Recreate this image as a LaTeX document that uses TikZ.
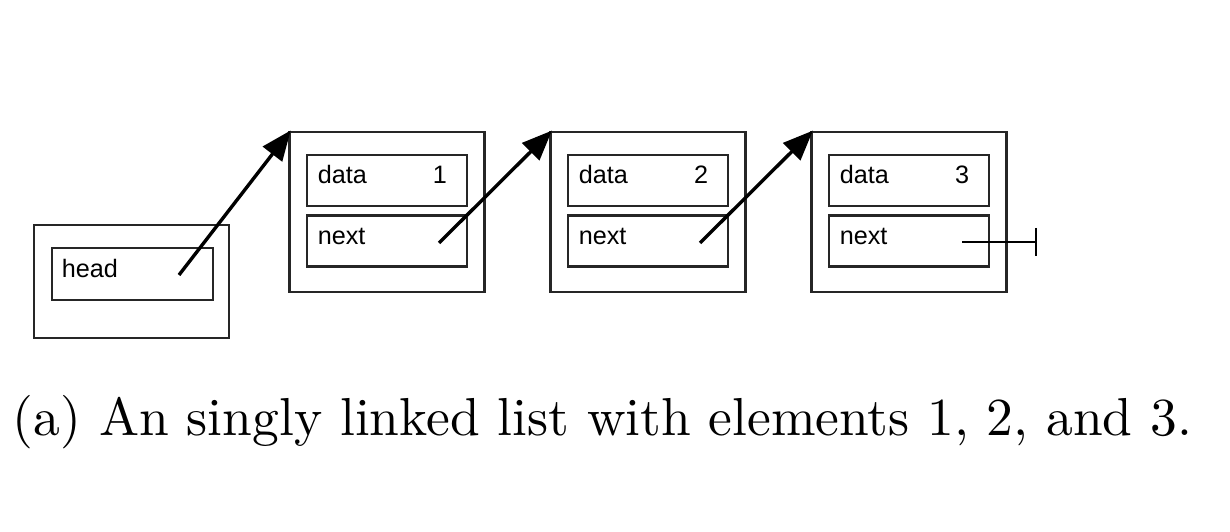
\documentclass[tikz,border=0pt]{standalone}
\usepackage{fontspec}
\usepackage{graphicx}
\newfontfamily\lblfont{Liberation Sans}
\usetikzlibrary{arrows.meta}
\tikzset{
  outerbox/.style={draw=black!85, line width=0.6pt, minimum width=#1, inner sep=0pt, outer sep=0pt},
  cell/.style={draw=black!85, line width=0.6pt, minimum width=40pt, minimum height=12.75pt, inner sep=0pt, outer sep=0pt},
  lbl/.style={font=\lblfont\fontsize{6.3}{7}\selectfont, inner sep=0pt, anchor=base west},
  num/.style={font=\lblfont\fontsize{6.3}{7}\selectfont, inner sep=0pt, anchor=base},
  ptr/.style={line width=0.85pt, -{Triangle[length=7.5pt, width=6pt]}, shorten >=-0.5pt},
  nullptr/.style={line width=0.6pt, -{Bar[width=7pt]}}
}
\begin{document}
\begin{tikzpicture}[x=0.25pt, y=-0.25pt]
\useasboundingbox (0,0) rectangle (1230,532);
% head
\node[outerbox=48.75pt, minimum height=28.25pt] (headbox) at (131.5,281.5) {};
\node[cell, minimum width=40.25pt, minimum height=13pt] (head) at (132.5,274) {};
\node[lbl] (headt) at (61,278) {head};
\coordinate (hs) at (179,275);
% list nodes
\foreach \i/\x/\v in {1/387/1, 2/648/2, 3/909/3}{
  \node[outerbox=48.75pt, minimum height=40pt] (n\i) at (\x,212) {};
  \node[cell] (d\i) at (\x,180.5) {};
  \node[cell] (nx\i) at (\x,241) {};
  \node[lbl] (dl\i) at (\x-70,184) {data};
  \node[num] (dv\i) at (\x+53,184) {\v};
  \node[lbl] (nl\i) at (\x-70,245) {next};
  \coordinate (ns\i) at (\x+52,243);
}
% pointers
\draw[ptr] (hs) -- (n1.north west);
\draw[ptr] (ns1) -- (n2.north west);
\draw[ptr] (ns2) -- (n3.north west);
\coordinate (nullstart) at (962,242);
\coordinate (nullend) at (1037,242);
\draw[nullptr] (nullstart) -- (nullend);
% caption
\node[anchor=base, inner sep=0pt] (cap) at (602.5,436) {\resizebox{294.75pt}{!}{(a) An singly linked list with elements 1, 2, and 3.}};
\end{tikzpicture}
\end{document}
